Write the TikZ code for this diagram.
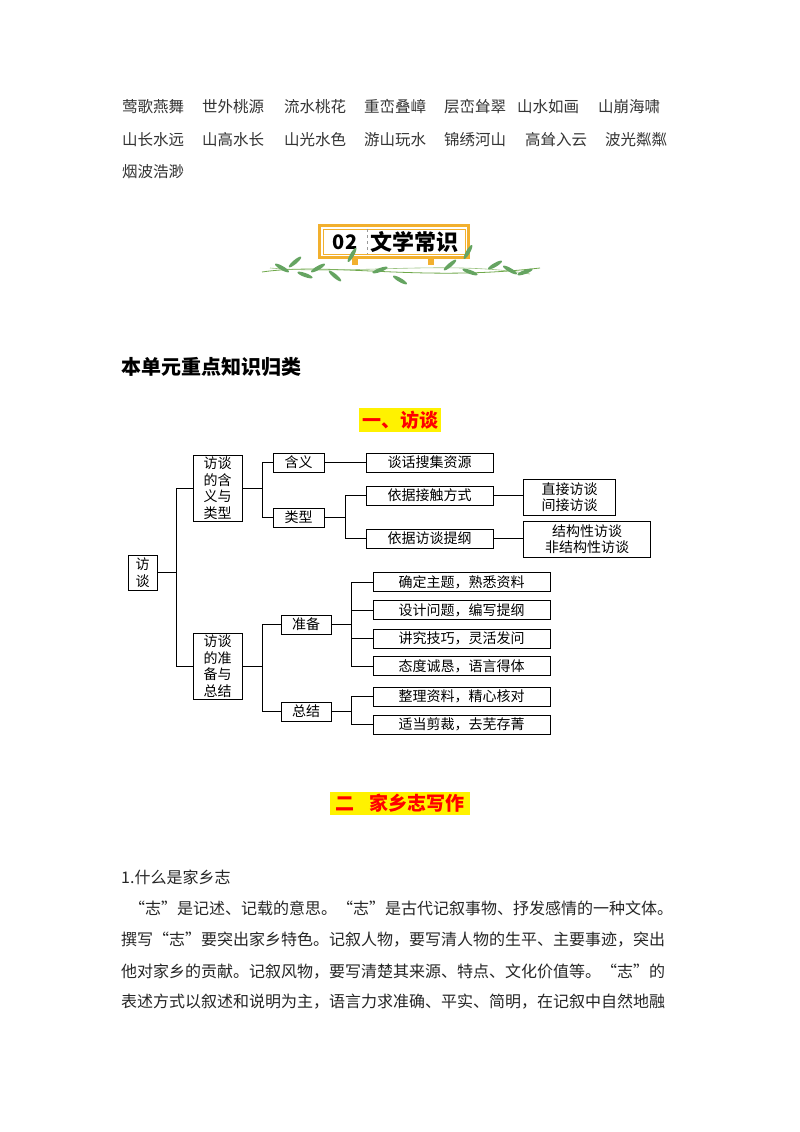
\documentclass[tikz,border=0pt]{standalone}
\usepackage{fontspec}
\newfontfamily\cjk{Noto Sans CJK SC}
\setmainfont{Noto Sans CJK SC}
\definecolor{vine}{HTML}{6FA84A}
\definecolor{leafc}{HTML}{3E8E3A}
\definecolor{frameo}{HTML}{F2B02E}
\begin{document}
\begin{tikzpicture}[x=1pt,y=-1pt,
  bx/.style={draw, line width=0.9pt, inner sep=0pt, align=center, font=\fontsize{14}{16.5}\selectfont},
  conn/.style={line width=0.7pt},
  body/.style={anchor=west, inner sep=0pt, font=\fontsize{16}{16}\selectfont, text=black!85},
  word/.style={anchor=west, inner sep=0pt, font=\fontsize{15.5}{16}\selectfont, text=black!80}]
\useasboundingbox (0,0) rectangle (800,1132);
\fill[white] (0,0) rectangle (800,1132);
% idiom lines
\foreach \x/\t in {122/莺歌燕舞,202/世外桃源,284/流水桃花,364/重峦叠嶂,444/层峦耸翠,517/山水如画,598/山崩海啸}
  \node[word] at (\x,107) {\t};
\foreach \x/\t in {122/山长水远,202/山高水长,284/山光水色,364/游山玩水,444/锦绣河山,525/高耸入云,605/波光粼粼}
  \node[word] at (\x,140) {\t};
\node[word] (w3) at (122,172) {烟波浩渺};
% banner
\draw[vine, line width=0.8pt] (262,272) .. controls (330,262) and (420,282) .. (540,268);
\draw[vine!70, line width=0.6pt] (270,268) .. controls (350,275) and (450,260) .. (530,274);
\fill[frameo] (318,224) rectangle (470,259);
\fill[white] (321,227) rectangle (467,256);
\draw[frameo, line width=0.5pt] (323,229) rectangle (465,254);
\draw[black!40, dashed, line width=0.4pt] (367,229) -- (367,254);
\fill[frameo] (352,259) rectangle (358,265);
\fill[frameo] (428,259) rectangle (434,265);
\node[inner sep=0pt, font=\fontsize{20}{20}\selectfont\bfseries] (b02) at (345,242) {02};
\node[inner sep=0pt, font=\fontsize{22}{22}\selectfont\bfseries] (bt) at (414,242) {文学常识};
\foreach \px/\py/\r in {282/268/-30,295/262/40,305/275/-20,318/268/30,335/276/-40,352/255/60,380/270/20,400/280/-30,450/265/40,470/272/-20,495/265/30,510/270/-30,525/272/20,468/252/60}
  \fill[leafc!80] (\px,\py) ellipse [x radius=8, y radius=2, rotate=\r];
% headings
\node[anchor=west, inner sep=0pt, font=\fontsize{20}{20}\selectfont\bfseries] (h1) at (121,367) {本单元重点知识归类};
\fill[yellow] (359,408) rectangle (441,432);
\node[inner sep=0pt, text=red, font=\fontsize{19}{19}\selectfont\bfseries] (h2) at (400,420) {一、访谈};
\fill[yellow] (330,792) rectangle (470,815);
\node[inner sep=0pt, text=red, font=\fontsize{19}{19}\selectfont\bfseries] (h3) at (400,803.5) {二\hspace{0.8em}家乡志写作};
% tree
\node[bx, minimum width=29, minimum height=35] (root) at (142.5,572.5) {访\\谈};
\node[bx, minimum width=49, minimum height=66] (a1) at (217.5,488) {访谈\\的含\\义与\\类型};
\node[bx, minimum width=49, minimum height=66] (a2) at (217.5,666) {访谈\\的准\\备与\\总结};
\node[bx, minimum width=51, minimum height=19] (hy) at (298.5,462.5) {含义};
\node[bx, minimum width=51, minimum height=19] (lx) at (298.5,517.5) {类型};
\node[bx, minimum width=127, minimum height=19] (th) at (429.5,462.5) {谈话搜集资源};
\node[bx, minimum width=127, minimum height=19] (jc) at (429.5,495.5) {依据接触方式};
\node[bx, minimum width=127, minimum height=19] (tg) at (429.5,538.5) {依据访谈提纲};
\node[bx, minimum width=92, minimum height=36] (zj) at (569.5,497) {直接访谈\\间接访谈};
\node[bx, minimum width=127, minimum height=36] (jg) at (587,539) {结构性访谈\\非结构性访谈};
\node[bx, minimum width=50, minimum height=19] (zb) at (306,624.5) {准备};
\node[bx, minimum width=50, minimum height=19] (zjj) at (306,711.5) {总结};
\foreach \n/\y/\t in {l1/582/{确定主题，熟悉资料},l2/610/{设计问题，编写提纲},l3/638.5/{讲究技巧，灵活发问},l4/666/{态度诚恳，语言得体},l5/696.5/{整理资料，精心核对},l6/724.5/{适当剪裁，去芜存菁}}
  \node[bx, minimum width=177, minimum height=19] (\n) at (461.5,\y) {\t};
\draw[conn] (root.east) -- ++(19,0) |- (a1.west);
\draw[conn] (root.east) -- ++(19,0) |- (a2.west);
\draw[conn] (a1.east) -- ++(20,0) |- (hy.west);
\draw[conn] (a1.east) -- ++(20,0) |- (lx.west);
\draw[conn] (hy.east) -- (th.west);
\draw[conn] (lx.east) -- ++(21,0) |- (jc.west);
\draw[conn] (lx.east) -- ++(21,0) |- (tg.west);
\draw[conn] (jc.east) -- (jc.east -| zj.west);
\draw[conn] (tg.east) -- (tg.east -| jg.west);
\draw[conn] (a2.east) -- ++(20,0) |- (zb.west);
\draw[conn] (a2.east) -- ++(20,0) |- (zjj.west);
\foreach \n in {l1,l2,l3,l4} \draw[conn] (zb.east) -- ++(20,0) |- (\n.west);
\foreach \n in {l5,l6} \draw[conn] (zjj.east) -- ++(20,0) |- (\n.west);
% body text
\node[body] (p0) at (121,877) {1.什么是家乡志};
\node[body] (p1) at (121,908) {\hspace{0.5em}“志”是记述、记载的意思。“志”是古代记叙事物、抒发感情的一种文体。};
\node[body] (p2) at (121,940) {撰写“志”要突出家乡特色。记叙人物，要写清人物的生平、主要事迹，突出};
\node[body] (p3) at (121,972) {他对家乡的贡献。记叙风物，要写清楚其来源、特点、文化价值等。“志”的};
\node[body] (p4) at (121,1002) {表述方式以叙述和说明为主，语言力求准确、平实、简明，在记叙中自然地融};
\end{tikzpicture}
\end{document}
